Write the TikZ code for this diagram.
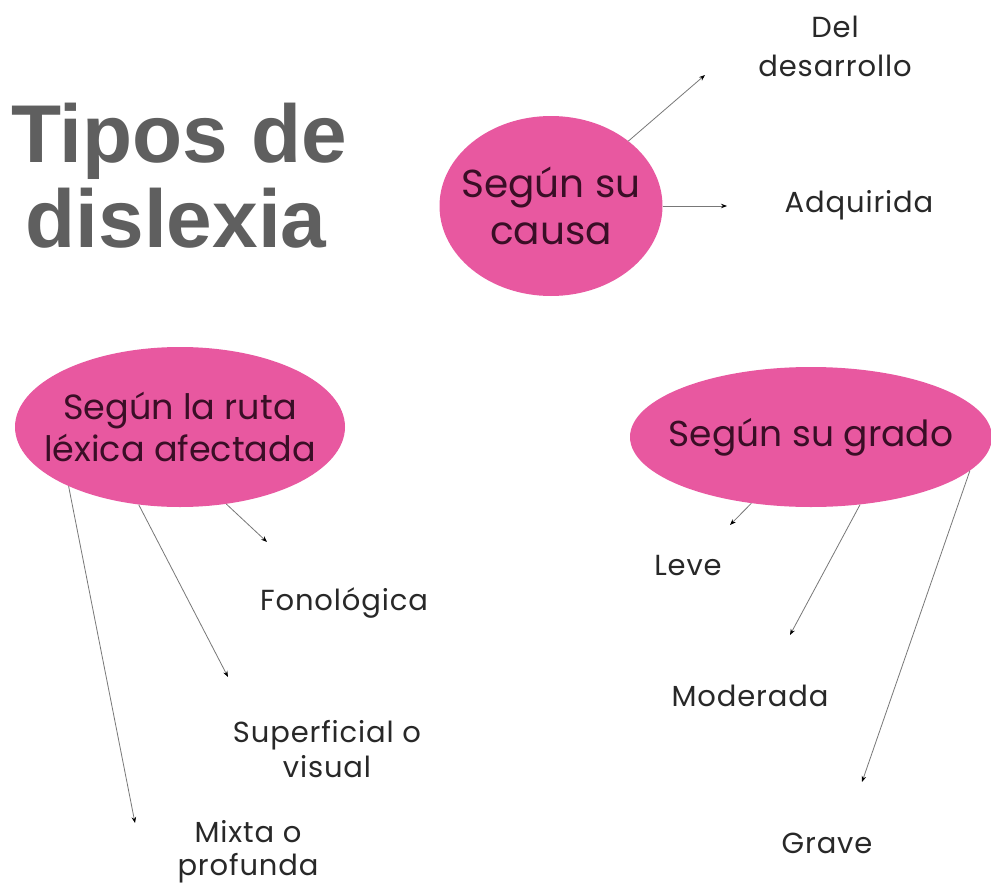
\documentclass[tikz,border=0pt]{standalone}
\usepackage{fontspec}
\setmainfont{Poppins}
\newfontfamily\titlefont{Liberation Sans}
\usetikzlibrary{shapes.geometric,arrows.meta}
\definecolor{pinkfill}{RGB}{232,88,160}
\definecolor{pinktext}{RGB}{58,14,38}
\definecolor{titlegray}{RGB}{95,95,95}
\definecolor{labeltext}{RGB}{40,40,40}
\definecolor{linegray}{RGB}{120,120,120}
\tikzset{
  bubble/.style={ellipse, fill=pinkfill, draw=none, inner sep=0pt},
  bubbletext/.style={align=center, text=pinktext, inner sep=0pt},
  leaf/.style={align=center, text=labeltext, inner sep=0pt,
    font=\fontsize{29}{35}\selectfont\addfontfeatures{LetterSpace=3}},
  conn/.style={draw=linegray, line width=0.8pt, -{Stealth[length=6pt,width=4.5pt,black]}},
  titletext/.style={text=titlegray, inner sep=0pt, anchor=base, font=\titlefont\bfseries\fontsize{82}{85}\selectfont}
}
\begin{document}
\begin{tikzpicture}[x=1pt,y=-1pt]
\useasboundingbox (0,0) rectangle (991,886);
\fill[white] (0,0) rectangle (991,886);
% title
\node[titletext] (t1) at (179,162) {Tipos de};
\node[titletext] (t2) at (176,247) {dislexia};
% bubbles
\node[bubble, minimum width=223pt, minimum height=180pt,
  label={[bubbletext, font=\fontsize{39}{47}\selectfont]center:Según su\\causa}] (causa) at (551,206) {};
\node[bubble, minimum width=330pt, minimum height=160pt,
  label={[bubbletext, font=\fontsize{35}{42}\selectfont]center:Según la ruta\\léxica afectada}] (ruta) at (180,427) {};
\node[bubble, minimum width=362pt, minimum height=140pt,
  label={[bubbletext, font=\fontsize{36}{42}\selectfont]center:Según su grado}] (grado) at (811,437) {};
% leaves
\node[leaf, font=\fontsize{29}{39}\selectfont\addfontfeatures{LetterSpace=3}] (del) at (835,46) {Del\\desarrollo};
\node[leaf] (adq) at (859,205) {Adquirida};
\node[leaf] (fono) at (344,603) {Fonológica};
\node[leaf] (sup) at (327,749) {Superficial o\\visual};
\node[leaf, font=\fontsize{29}{33}\selectfont\addfontfeatures{LetterSpace=3}] (mix) at (248,852) {Mixta o\\profunda};
\node[leaf] (leve) at (688,566) {Leve};
\node[leaf] (mod) at (750,696) {Moderada};
\node[leaf] (grave) at (827,843) {Grave};
% arrow tips
\coordinate (tdel) at (705,75);
\coordinate (tadq) at (727,206);
\coordinate (tfono) at (267,542);
\coordinate (tsup) at (228,677);
\coordinate (tmix) at (135,823);
\coordinate (tleve) at (730,525);
\coordinate (tmod) at (790,635);
\coordinate (tgrave) at (862,782);
% connectors
\draw[conn] (causa.40) -- (tdel);
\draw[conn] (causa.0) -- (tadq);
\draw[conn] (ruta.-59) -- (tfono);
\draw[conn] (ruta.-118) -- (tsup);
\draw[conn] (ruta.-152) -- (tmix);
\draw[conn] (grado.-132) -- (tleve);
\draw[conn] (grado.-54) -- (tmod);
\draw[conn] (grado.-12) -- (tgrave);
\end{tikzpicture}
\end{document}
